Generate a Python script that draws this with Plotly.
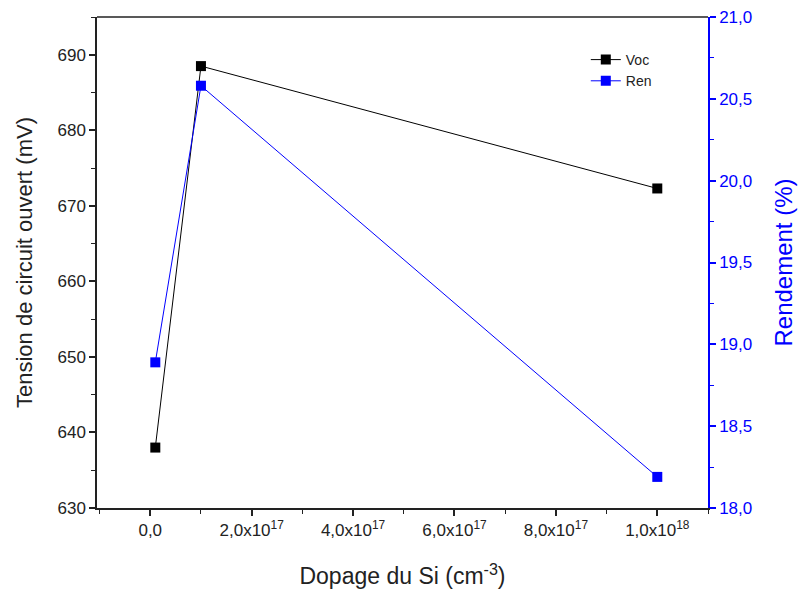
import plotly.graph_objects as go

dopage = [1e16, 1e17, 1e18]
voc = [638.0, 688.5, 672.3]
rendement = [18.89, 20.58, 18.19]

x_ticks = [0, 2e17, 4e17, 6e17, 8e17, 1e18]
x_ticktext = ["0,0", "2,0x10<sup>17</sup>", "4,0x10<sup>17</sup>", "6,0x10<sup>17</sup>",
              "8,0x10<sup>17</sup>", "1,0x10<sup>18</sup>"]
y1_ticks = [630, 640, 650, 660, 670, 680, 690]
y2_ticks = [18.0, 18.5, 19.0, 19.5, 20.0, 20.5, 21.0]
y2_ticktext = ["18,0", "18,5", "19,0", "19,5", "20,0", "20,5", "21,0"]

FONT = "Liberation Sans, Arial, sans-serif"
BLUE = "#0000ff"
DARK = "#222"

fig = go.Figure()
fig.add_trace(go.Scatter(x=dopage, y=voc, mode="lines+markers", name="Voc",
                         line=dict(color="black", width=1),
                         marker=dict(symbol="square", size=10, color="black")))
fig.add_trace(go.Scatter(x=dopage, y=rendement, mode="lines+markers", name="Ren",
                         yaxis="y2",
                         line=dict(color=BLUE, width=1),
                         marker=dict(symbol="square", size=10, color=BLUE)))

fig.update_layout(
    width=798, height=596,
    margin=dict(l=97, r=90, t=17, b=88),
    paper_bgcolor="white", plot_bgcolor="white",
    font=dict(family=FONT, size=17, color=DARK),
    showlegend=True,
    legend=dict(x=0.8, y=0.945, xanchor="left", yanchor="top",
                bgcolor="rgba(0,0,0,0)", font=dict(size=14, color=DARK),
                tracegroupgap=0, itemwidth=30),
    xaxis=dict(range=[-1.05e17, 1.10e18], tickvals=x_ticks, ticktext=x_ticktext,
               automargin=False,
               showgrid=False, zeroline=False, showline=True, linecolor=DARK,
               linewidth=1.5, ticks="outside", ticklen=6, tickwidth=1.5, tickcolor=DARK,
               minor=dict(ticks="outside", ticklen=4, tickwidth=1, tickcolor=DARK, dtick=1e17),
               title=dict(text="Dopage du Si (cm<sup>-3</sup>)", font=dict(size=23, color=DARK),
                          standoff=29),
               tickfont=dict(size=17, color=DARK)),
    yaxis=dict(range=[630, 695], tickvals=y1_ticks, showgrid=False, zeroline=False,
               automargin=False,
               showline=True, linecolor=DARK, linewidth=1.5, ticks="outside", ticklen=6,
               tickwidth=1.5, tickcolor=DARK,
               minor=dict(ticks="outside", ticklen=4, tickwidth=1, tickcolor=DARK, dtick=5),
               title=dict(text="Tension de circuit ouvert (mV)", font=dict(size=22, color=DARK),
                          standoff=19),
               tickfont=dict(size=17, color=DARK)),
    yaxis2=dict(range=[18.0, 21.0], tickvals=y2_ticks, ticktext=y2_ticktext,
                automargin=False,
                overlaying="y", side="right", showgrid=False, zeroline=False,
                showline=True, linecolor=BLUE, linewidth=1.5, ticks="outside", ticklen=6,
                tickwidth=1.5, tickcolor=BLUE,
                minor=dict(ticks="outside", ticklen=4, tickwidth=1, tickcolor=BLUE, dtick=0.25),
                title=dict(text="Rendement (%)", font=dict(size=24, color=BLUE), standoff=24),
                tickfont=dict(size=17, color=BLUE)),
    shapes=[dict(type="line", xref="paper", yref="paper", x0=0, x1=1, y0=1, y1=1,
                 line=dict(color=DARK, width=1.5))],
)

fig.write_html("out.html")
